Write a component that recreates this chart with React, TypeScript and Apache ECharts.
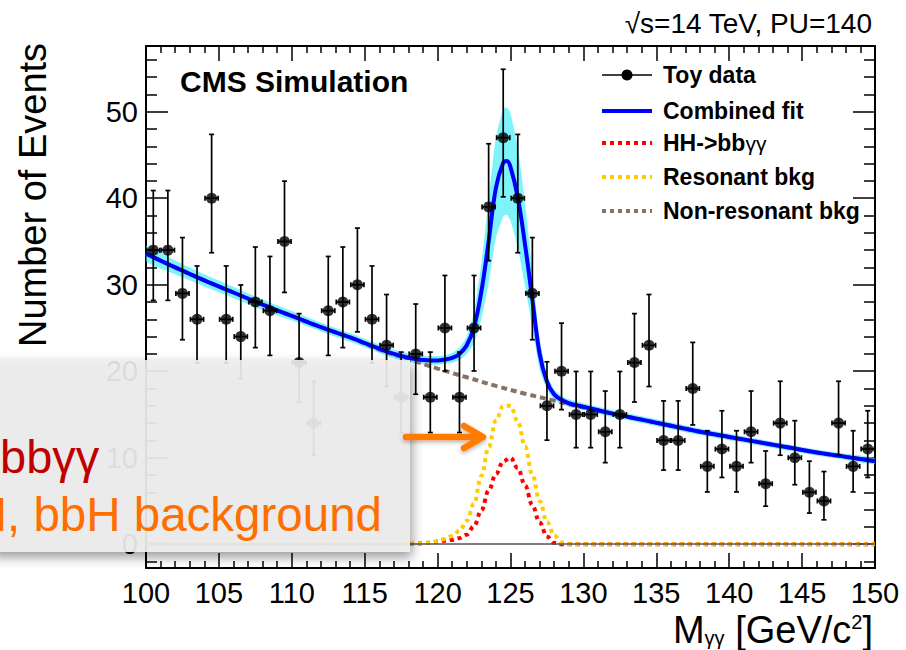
import React, { useEffect, useRef } from "react";
import * as echarts from "echarts";

// ---- Toy data (1 GeV bins) ----
const binCenters = [
  100.5, 101.5, 102.5, 103.5, 104.5, 105.5, 106.5, 107.5, 108.5, 109.5,
  110.5, 111.5, 112.5, 113.5, 114.5, 115.5, 116.5, 117.5, 118.5, 119.5,
  120.5, 121.5, 122.5, 123.5, 124.5, 125.5, 126.5, 127.5, 128.5, 129.5,
  130.5, 131.5, 132.5, 133.5, 134.5, 135.5, 136.5, 137.5, 138.5, 139.5,
  140.5, 141.5, 142.5, 143.5, 144.5, 145.5, 146.5, 147.5, 148.5, 149.5,
];
const counts = [
  34, 34, 29, 26, 40, 26, 24, 28, 27, 35,
  21, 14, 27, 28, 30, 26, 23, 17, 22, 17,
  25, 17, 25, 39, 47, 40, 29, 16, 20, 15,
  15, 13, 15, 21, 23, 12, 12, 18, 9, 11,
  9, 13, 7, 14, 10, 6, 5, 14, 9, 11,
];
const errUp = [
  6.89, 6.89, 6.45, 6.17, 7.38, 6.17, 5.97, 6.36, 6.27, 6.98,
  5.66, 4.84, 6.27, 6.36, 6.55, 6.17, 5.87, 5.21, 5.77, 5.21,
  6.07, 5.21, 6.07, 7.3, 7.91, 7.38, 6.45, 5.09, 5.56, 4.97,
  4.97, 4.71, 4.97, 5.66, 5.87, 4.57, 4.57, 5.33, 4.12, 4.43,
  4.12, 4.71, 3.78, 4.84, 4.28, 3.6, 3.4, 4.84, 4.12, 4.43,
];
const errDown = [
  5.81, 5.81, 5.36, 5.07, 6.3, 5.07, 4.87, 5.27, 5.17, 5.89,
  4.56, 3.71, 5.17, 5.27, 5.45, 5.07, 4.77, 4.09, 4.66, 4.09,
  4.97, 4.09, 4.97, 6.22, 6.84, 6.3, 5.36, 3.97, 4.44, 3.84,
  3.84, 3.57, 3.84, 4.56, 4.77, 3.43, 3.43, 4.21, 2.96, 3.28,
  2.96, 3.57, 2.6, 3.71, 3.12, 2.4, 2.18, 3.71, 2.96, 3.28,
];
const xErr = 0.45;

// ---- Combined fit curve and its uncertainty band ----
const fitMass = [
  100, 102, 104, 106, 108, 110, 112, 114, 116, 117, 118, 118.5, 119, 119.5,
  120, 120.5, 121, 121.5, 122, 122.5, 123, 123.5, 124, 124.5, 124.75, 125,
  125.5, 126, 126.5, 127, 127.5, 128, 128.5, 129, 130, 132, 134, 136, 138,
  140, 142, 144, 146, 148, 150,
];
const fitVals = [
  33.6, 32.0, 30.5, 29.1, 27.7, 26.4, 25.1, 23.9, 22.6, 22.0, 21.55, 21.4, 21.3, 21.25,
  21.25, 21.35, 21.55, 22.0, 23.0, 25.1, 29.2, 35.0, 41.2, 44.1, 44.3, 43.6,
  40.1, 34.6, 28.3, 22.0, 18.8, 17.3, 16.7, 16.3, 15.9, 15.1, 14.4, 13.7, 13.0,
  12.4, 11.8, 11.2, 10.6, 10.1, 9.6,
];
const bandHalf = [
  0.9, 0.8, 0.7, 0.65, 0.6, 0.55, 0.5, 0.5, 0.5, 0.5, 0.5, 0.5, 0.5, 0.5,
  0.5, 0.5, 0.55, 0.7, 1.0, 1.8, 3.2, 4.8, 5.8, 6.2, 6.2, 6.2,
  5.8, 4.8, 3.2, 1.8, 0.9, 0.6, 0.5, 0.45, 0.4, 0.4, 0.4, 0.4, 0.38,
  0.38, 0.36, 0.36, 0.35, 0.35, 0.35,
];

// ---- Non-resonant background ----
const bgMass = [
  100, 102, 104, 106, 108, 110, 112, 114, 116, 118, 120, 122, 124, 126, 128,
  130, 132, 134, 136, 138, 140, 142, 144, 146, 148, 150,
];
const bgVals = [
  33.6, 32.0, 30.5, 29.1, 27.7, 26.4, 25.1, 23.9, 22.5, 21.4, 20.3, 19.3, 18.3, 17.4, 16.6,
  15.8, 15.1, 14.4, 13.7, 13.0, 12.4, 11.8, 11.2, 10.6, 10.1, 9.6,
];

// ---- Signal (HH->bbγγ) and resonant background ----
const pkMass = [
  100, 118, 118.5, 119, 119.5, 120, 120.5, 121, 121.5, 122, 122.5, 123, 123.5,
  124, 124.5, 125, 125.5, 126, 126.5, 127, 127.5, 128, 128.5, 129, 150,
];
const sigVals = [
  0, 0.02, 0.05, 0.1, 0.18, 0.3, 0.4, 0.5, 0.7, 1.1, 2.1, 3.9, 6.2,
  8.1, 9.6, 10.0, 8.8, 6.8, 4.5, 2.5, 0.9, 0.15, 0, 0, 0,
];
const resVals = [
  0, 0.03, 0.06, 0.12, 0.2, 0.35, 0.6, 0.95, 1.55, 2.7, 4.7, 7.9, 11.2,
  14.3, 16.0, 16.0, 14.2, 11.3, 8.0, 5.0, 2.6, 1.0, 0.2, 0, 0,
];

// ---- Axis ticks ----
const yMajor = [0, 10, 20, 30, 40, 50];
const yMinor = [-2, 2, 4, 6, 8, 12, 14, 16, 18, 22, 24, 26, 28, 32, 34, 36, 38, 42, 44, 46, 48, 52, 54, 56];

const FONT = "Liberation Sans";
const C_BLUE = "#0000ff";
const C_RED = "#ff0000";
const C_YEL = "#ffcc00";
const C_BRN = "#8a7263";
const C_BAND = "rgba(40,235,245,0.6)";
const C_ARROW = "#ff7b00";

export default function App() {
  const ref = useRef<HTMLDivElement>(null);

  useEffect(() => {
    if (!ref.current) return;
    const chart = echarts.init(ref.current, undefined, { renderer: "svg" });

    const axisLine = { show: true, onZero: false, lineStyle: { color: "#000", width: 2 } };
    const yCommon = { type: "value", min: -2.75, max: 57.6, splitLine: { show: false } };
    const tickStyle = { color: "#000", width: 1.5 };

    const legendRows = [
      { y: 75, label: "Toy data", kind: "data" },
      { y: 111, label: "Combined fit", kind: "fit" },
      { y: 143, label: "HH", kind: "sig" },
      { y: 177, label: "Resonant bkg", kind: "res" },
      { y: 211, label: "Non-resonant bkg", kind: "bg" },
    ];
    const lx1 = 602, lx2 = 652, tx = 663;
    const legendEls: any[] = [];
    legendRows.forEach((r) => {
      if (r.kind === "data") {
        legendEls.push({ type: "line", shape: { x1: lx1, y1: r.y, x2: lx2, y2: r.y }, style: { stroke: "#000", lineWidth: 1.5 } });
        legendEls.push({ type: "circle", shape: { cx: (lx1 + lx2) / 2, cy: r.y, r: 5.5 }, style: { fill: "#000" } });
      } else if (r.kind === "fit") {
        legendEls.push({ type: "line", shape: { x1: lx1, y1: r.y, x2: lx2, y2: r.y }, style: { stroke: C_BLUE, lineWidth: 4 } });
      } else {
        const col = r.kind === "sig" ? C_RED : r.kind === "res" ? C_YEL : C_BRN;
        legendEls.push({ type: "line", shape: { x1: lx1, y1: r.y, x2: lx2, y2: r.y }, style: { stroke: col, lineWidth: 4, lineDash: [4, 4] } });
      }
      if (r.kind === "sig") {
        legendEls.push({
          type: "text", x: tx, y: r.y,
          style: {
            text: "{b|HH->bb}{g|γγ}", verticalAlign: "middle", align: "left",
            rich: {
              b: { fontFamily: FONT, fontSize: 23, fontWeight: "bold", fill: "#000" },
              g: { fontFamily: FONT, fontSize: 21, fill: "#000" },
            },
          },
        });
      } else {
        legendEls.push({
          type: "text", x: tx, y: r.y,
          style: { text: r.label, fontFamily: FONT, fontSize: 23, fontWeight: "bold", fill: "#000", verticalAlign: "middle", align: "left" },
        });
      }
    });

    const option: any = {
      animation: false,
      textStyle: { fontFamily: FONT },
      grid: { left: 146, right: 31, top: 46, bottom: 82, show: false },
      xAxis: [
        {
          type: "value", min: 100, max: 150, interval: 5, position: "bottom",
          axisLine, splitLine: { show: false },
          axisTick: { inside: true, length: 15, lineStyle: tickStyle },
          minorTick: { show: true, splitNumber: 5, length: 7, lineStyle: tickStyle },
          axisLabel: { fontSize: 29, color: "#000", margin: 10, fontFamily: FONT },
        },
        {
          type: "value", min: 100, max: 150, interval: 5, position: "top",
          axisLine, splitLine: { show: false },
          axisTick: { inside: true, length: 15, lineStyle: tickStyle },
          minorTick: { show: true, splitNumber: 5, length: 7, lineStyle: tickStyle },
          axisLabel: { show: false },
        },
      ],
      yAxis: [
        {
          ...yCommon, position: "left", axisLine,
          axisTick: { inside: true, length: 22, customValues: yMajor, lineStyle: tickStyle },
          axisLabel: { customValues: yMajor, fontSize: 29, color: "#000", margin: 8, fontFamily: FONT },
        },
        {
          ...yCommon, position: "left", axisLine: { show: false, onZero: false },
          axisTick: { inside: true, length: 11, customValues: yMinor, lineStyle: tickStyle },
          axisLabel: { show: false },
        },
        {
          ...yCommon, position: "right", axisLine,
          axisTick: { inside: true, length: 22, customValues: yMajor, lineStyle: tickStyle },
          axisLabel: { show: false },
        },
        {
          ...yCommon, position: "right", axisLine: { show: false, onZero: false },
          axisTick: { inside: true, length: 11, customValues: yMinor, lineStyle: tickStyle },
          axisLabel: { show: false },
        },
      ],
      series: [
        {
          name: "band", type: "custom", z: 1, silent: true, clip: true,
          data: [[fitMass[0], fitVals[0]]],
          encode: { x: 0, y: 1 },
          renderItem: (params: any, api: any) => {
            const upper = fitMass.map((m, i) => api.coord([m, fitVals[i] + bandHalf[i]]));
            const lower = fitMass.map((m, i) => api.coord([m, fitVals[i] - bandHalf[i]])).reverse();
            return {
              type: "polygon",
              shape: { points: upper.concat(lower), smooth: 0.2 },
              style: { fill: C_BAND },
            };
          },
        },
        {
          name: "Non-resonant bkg", type: "line", symbol: "none", smooth: 0.4,
          data: bgMass.map((m, i) => [m, bgVals[i]]),
          lineStyle: { color: C_BRN, width: 4, type: [6, 4] }, z: 2,
          markLine: {
            silent: true, symbol: "none", label: { show: false },
            lineStyle: { color: "#555", width: 1.5, type: "solid" },
            data: [{ yAxis: 0 }],
          },
        },
        {
          name: "HH->bbγγ", type: "line", symbol: "none", smooth: 0.4, smoothMonotone: "x",
          data: pkMass.map((m, i) => [m, sigVals[i]]),
          lineStyle: { color: C_RED, width: 4, type: [4, 4] }, z: 3,
        },
        {
          name: "Resonant bkg", type: "line", symbol: "none", smooth: 0.4, smoothMonotone: "x",
          data: pkMass.map((m, i) => [m, resVals[i]]),
          lineStyle: { color: C_YEL, width: 4, type: [4, 4] }, z: 3,
        },
        {
          name: "Combined fit", type: "line", symbol: "none", smooth: 0.4,
          data: fitMass.map((m, i) => [m, fitVals[i]]),
          lineStyle: { color: C_BLUE, width: 4 }, z: 4,
        },
        {
          name: "errors", type: "custom", z: 5,
          data: binCenters.map((x, i) => [x, counts[i], errUp[i], errDown[i]]),
          encode: { x: 0, y: 1 },
          renderItem: (params: any, api: any) => {
            const x = api.value(0), y = api.value(1), up = api.value(2), dn = api.value(3);
            const pT = api.coord([x, y + up]);
            const pB = api.coord([x, y - dn]);
            const pL = api.coord([x - xErr, y]);
            const pR = api.coord([x + xErr, y]);
            const c = 2.5;
            const st = { stroke: "#000", lineWidth: 1.7 };
            const ln = (x1: number, y1: number, x2: number, y2: number) => ({ type: "line", shape: { x1, y1, x2, y2 }, style: st });
            return {
              type: "group",
              children: [
                ln(pT[0], pT[1], pB[0], pB[1]),
                ln(pT[0] - c, pT[1], pT[0] + c, pT[1]),
                ln(pB[0] - c, pB[1], pB[0] + c, pB[1]),
                ln(pL[0], pL[1], pR[0], pR[1]),
                ln(pL[0], pL[1] - c, pL[0], pL[1] + c),
                ln(pR[0], pR[1] - c, pR[0], pR[1] + c),
              ],
            };
          },
        },
        {
          name: "Toy data", type: "scatter", symbol: "circle", symbolSize: 11, z: 6,
          data: binCenters.map((x, i) => [x, counts[i]]),
          itemStyle: { color: "#000" },
        },
      ],
      graphic: [
        {
          type: "text", x: 180, y: 81, z: 10,
          style: { text: "CMS Simulation", fontFamily: FONT, fontSize: 30, fontWeight: "bold", fill: "#000", verticalAlign: "middle", align: "left" },
        },
        {
          type: "text", x: 872, y: 23, z: 10,
          style: { text: "√s=14 TeV, PU=140", fontFamily: FONT, fontSize: 28, fill: "#000", verticalAlign: "middle", align: "right" },
        },
        {
          type: "text", x: 33, y: 195, rotation: Math.PI / 2, z: 10,
          style: { text: "Number of Events", fontFamily: FONT, fontSize: 38, fill: "#000", verticalAlign: "middle", align: "center" },
        },
        {
          type: "text", x: 873, y: 630, z: 10,
          style: {
            text: "M{s|γγ} [GeV/c{p|2}]", align: "right", verticalAlign: "middle",
            fontFamily: FONT, fontSize: 38, lineHeight: 36, fill: "#000",
            rich: {
              s: { fontFamily: FONT, fontSize: 20, fill: "#000", verticalAlign: "bottom", lineHeight: 36 },
              p: { fontFamily: FONT, fontSize: 20, fill: "#000", verticalAlign: "top", lineHeight: 36 },
            },
          },
        },
        ...legendEls.map((e) => ({ ...e, z: 10 })),
        {
          type: "rect", z: 100,
          shape: { x: -10, y: 360, width: 420, height: 192 },
          style: { fill: "rgba(238,238,238,0.9)", shadowBlur: 12, shadowOffsetX: 2, shadowOffsetY: 5, shadowColor: "rgba(0,0,0,0.45)" },
        },
        {
          type: "text", x: 0, y: 456, z: 101,
          style: { text: "bbγγ", fontFamily: FONT, fontSize: 47, fill: "#c00000", verticalAlign: "middle", align: "left" },
        },
        {
          type: "text", x: 382, y: 514, z: 101,
          style: { text: "H, bbH background", fontFamily: FONT, fontSize: 47.5, fill: "#ff6e00", verticalAlign: "middle", align: "right" },
        },
        {
          type: "polyline", z: 101,
          shape: { points: [[406, 437], [483, 437], [464, 426], [483, 437], [464, 448]] },
          style: { stroke: C_ARROW, fill: "none", lineWidth: 6.5, lineCap: "round", lineJoin: "round", shadowBlur: 4, shadowOffsetY: 2, shadowColor: "rgba(0,0,0,0.3)" },
        },
      ],
    };

    chart.setOption(option);
    return () => chart.dispose();
  }, []);

  return (
    <div
      ref={ref}
      style={{ position: "fixed", left: 0, top: 0, width: 906, height: 650, background: "#fff" }}
    />
  );
}
